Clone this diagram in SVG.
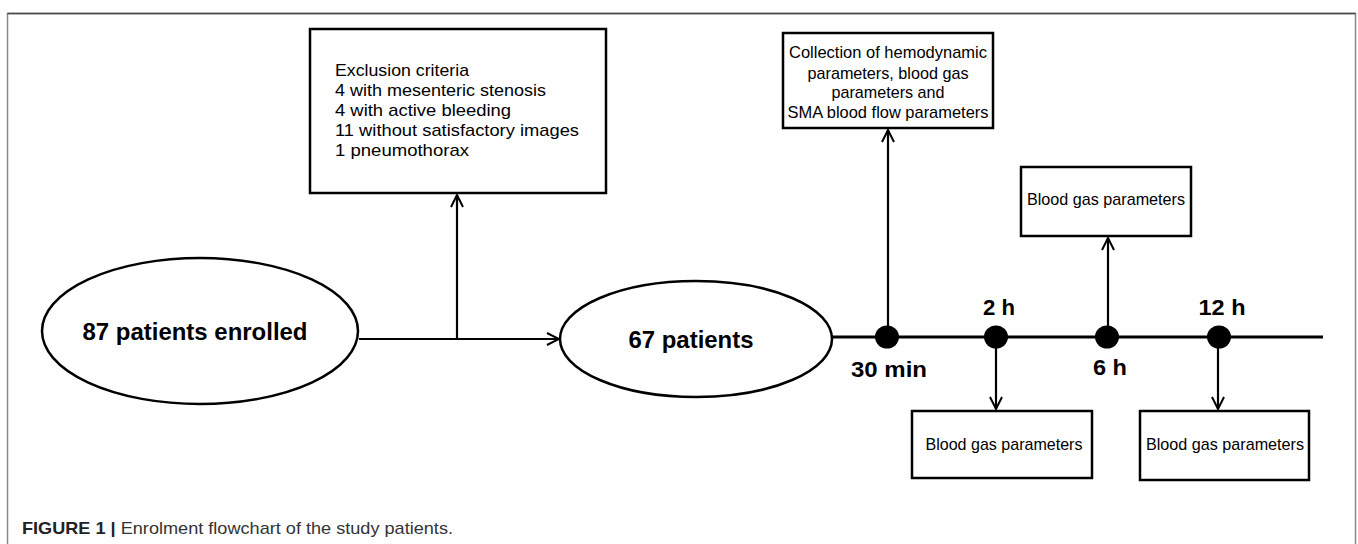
<svg xmlns="http://www.w3.org/2000/svg" width="1358" height="544" viewBox="0 0 1358 544">
<defs>
<style>
.box{fill:#fff;stroke:#000;stroke-width:2.5}
.ell{fill:#fff;stroke:#000;stroke-width:2.5}
.ln{fill:none;stroke:#000;stroke-width:2.2}
.t{font-family:"Liberation Sans",Arial,sans-serif;font-size:17px;fill:#000}
.b{font-family:"Liberation Sans",Arial,sans-serif;font-size:24px;font-weight:bold;fill:#000}
.lb{font-family:"Liberation Sans",Arial,sans-serif;font-size:22px;font-weight:bold;fill:#000}
.cap{font-family:"Liberation Sans",Arial,sans-serif;font-size:17px;fill:#333}
</style>
<marker id="ah" viewBox="0 0 14 14" refX="13" refY="7" markerWidth="14" markerHeight="14" markerUnits="userSpaceOnUse" orient="auto">
<path d="M1,1 L13,7 L1,13" fill="none" stroke="#000" stroke-width="2"/>
</marker>
</defs>
<rect width="1358" height="544" fill="#fff"/>
<path d="M7.5,544 V13.5 H1355.5 V544" fill="none" stroke="#888" stroke-width="1.5"/>
<path d="M7.5,13.5 H1355.5" fill="none" stroke="#444" stroke-width="1.5"/>

<g id="connectors">
<path class="ln" d="M359,339 H559" marker-end="url(#ah)"/>
<path class="ln" d="M457,339 V195" marker-end="url(#ah)"/>
<path d="M832,337 H1323" fill="none" stroke="#000" stroke-width="3"/>
<path class="ln" d="M888,337 V130" marker-end="url(#ah)"/>
<path class="ln" d="M1108,337 V238" marker-end="url(#ah)"/>
<path class="ln" d="M996,337 V409" marker-end="url(#ah)"/>
<path class="ln" d="M1218,337 V409" marker-end="url(#ah)"/>
</g>

<g id="exclusion">
<rect class="box" x="310" y="29" width="296" height="164"/>
<text class="t" x="335" y="76" textLength="134" lengthAdjust="spacingAndGlyphs">Exclusion criteria</text>
<text class="t" x="335" y="96" textLength="211" lengthAdjust="spacingAndGlyphs">4 with mesenteric stenosis</text>
<text class="t" x="335" y="116" textLength="176" lengthAdjust="spacingAndGlyphs">4 with active bleeding</text>
<text class="t" x="335" y="136" textLength="244" lengthAdjust="spacingAndGlyphs">11 without satisfactory images</text>
<text class="t" x="335" y="156" textLength="134" lengthAdjust="spacingAndGlyphs">1 pneumothorax</text>
</g>

<g id="enrolled">
<ellipse class="ell" cx="200" cy="331" rx="158" ry="73"/>
<text class="b" x="195" y="340" text-anchor="middle" textLength="225" lengthAdjust="spacingAndGlyphs">87 patients enrolled</text>
</g>

<g id="patients67">
<ellipse class="ell" cx="696" cy="339" rx="136" ry="58"/>
<text class="b" x="691" y="348" text-anchor="middle" textLength="125" lengthAdjust="spacingAndGlyphs">67 patients</text>
</g>

<g id="collection">
<rect class="box" x="783" y="33" width="210" height="95"/>
<text class="t" x="888" y="58" text-anchor="middle" textLength="198" lengthAdjust="spacingAndGlyphs">Collection of hemodynamic</text>
<text class="t" x="888" y="79" text-anchor="middle" textLength="161" lengthAdjust="spacingAndGlyphs">parameters, blood gas</text>
<text class="t" x="888" y="98" text-anchor="middle" textLength="113" lengthAdjust="spacingAndGlyphs">parameters and</text>
<text class="t" x="888" y="118" text-anchor="middle" textLength="201" lengthAdjust="spacingAndGlyphs">SMA blood flow parameters</text>
</g>

<g id="bg6h">
<rect class="box" x="1021" y="167" width="170" height="69"/>
<text class="t" x="1106" y="205" text-anchor="middle" textLength="158" lengthAdjust="spacingAndGlyphs">Blood gas parameters</text>
</g>

<g id="bg2h">
<rect class="box" x="912" y="411" width="180" height="67"/>
<text class="t" x="1004" y="450" text-anchor="middle" textLength="157" lengthAdjust="spacingAndGlyphs">Blood gas parameters</text>
</g>

<g id="bg12h">
<rect class="box" x="1140" y="411" width="169" height="69"/>
<text class="t" x="1225" y="450" text-anchor="middle" textLength="158" lengthAdjust="spacingAndGlyphs">Blood gas parameters</text>
</g>

<g id="timepoints">
<ellipse cx="887" cy="337" rx="12" ry="11.5" fill="#000"/>
<ellipse cx="996" cy="337" rx="12" ry="11.5" fill="#000"/>
<ellipse cx="1107" cy="337" rx="12" ry="11.5" fill="#000"/>
<ellipse cx="1219" cy="337" rx="12" ry="11.5" fill="#000"/>
<text class="lb" x="889" y="377" text-anchor="middle" textLength="76" lengthAdjust="spacingAndGlyphs">30 min</text>
<text class="lb" x="999" y="315" text-anchor="middle" textLength="32" lengthAdjust="spacingAndGlyphs">2 h</text>
<text class="lb" x="1110" y="375" text-anchor="middle" textLength="34" lengthAdjust="spacingAndGlyphs">6 h</text>
<text class="lb" x="1222" y="315" text-anchor="middle" textLength="47" lengthAdjust="spacingAndGlyphs">12 h</text>
</g>

<g id="caption">
<text class="cap" x="22" y="534" textLength="431" lengthAdjust="spacingAndGlyphs"><tspan font-weight="bold" fill="#222">FIGURE 1 | </tspan>Enrolment flowchart of the study patients.</text>
</g>
</svg>
